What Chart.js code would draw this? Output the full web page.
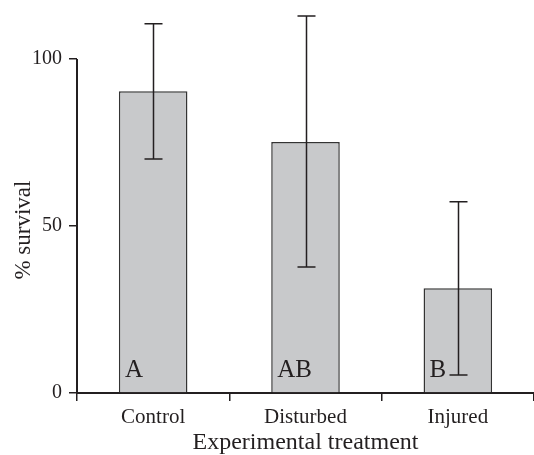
<!DOCTYPE html>
<html>
<head>
<meta charset="utf-8">
<script src="https://cdn.jsdelivr.net/npm/chart.js@4/dist/chart.umd.min.js"></script>
<style>
  html, body { margin: 0; padding: 0; background: #fff; }
  #wrap { width: 534px; height: 455px; }
</style>
</head>
<body>
<div id="wrap"><canvas id="chart"></canvas></div>
<script>
const treatments = ['Control', 'Disturbed', 'Injured'];
const survival = [90.4, 75.2, 31.4];
const errLow = [70.1, 37.7, 5.4];
const errHigh = [110.6, 112.9, 57.3];
const groupLetters = ['A', 'AB', 'B'];
const yTicks = [0, 50, 100];
const yTitle = '% survival';

const ink = '#231f20';
const serif = '"Liberation Serif", "Times New Roman", serif';

// error bars, significance letters, y title and the short y axis line
const extras = {
  id: 'extras',
  afterDatasetsDraw(chart) {
    const ctx = chart.ctx;
    const x = chart.scales.x;
    const y = chart.scales.y;
    const meta = chart.getDatasetMeta(0);
    ctx.save();
    ctx.strokeStyle = ink;
    ctx.lineWidth = 1.5;
    survival.forEach((v, i) => {
      const cx = Math.round(x.getPixelForValue(i)) + 0.5;
      const top = y.getPixelForValue(errHigh[i]);
      const bot = y.getPixelForValue(errLow[i]);
      ctx.beginPath();
      ctx.moveTo(cx, top); ctx.lineTo(cx, bot);
      ctx.moveTo(cx - 9, top); ctx.lineTo(cx + 9, top);
      ctx.moveTo(cx - 9, bot); ctx.lineTo(cx + 9, bot);
      ctx.stroke();
    });
    ctx.fillStyle = ink;
    ctx.font = '25px ' + serif;
    ctx.textBaseline = 'alphabetic';
    ctx.textAlign = 'left';
    meta.data.forEach((bar, i) => {
      const left = bar.x - bar.width / 2;
      ctx.fillText(groupLetters[i], left + 6, y.getPixelForValue(0) - 16);
    });
    // y axis line only spans 0 to 100
    const y0 = y.getPixelForValue(0);
    const y100 = y.getPixelForValue(100);
    ctx.lineWidth = 2;
    ctx.beginPath();
    ctx.moveTo(x.left, y0);
    ctx.lineTo(x.left, y100);
    ctx.stroke();
    // y title centred on that span
    ctx.translate(24, (y0 + y100) / 2 + 4);
    ctx.rotate(-Math.PI / 2);
    ctx.font = '23px ' + serif;
    ctx.textAlign = 'center';
    ctx.textBaseline = 'middle';
    ctx.fillText(yTitle, 0, 0);
    ctx.restore();
  }
};

new Chart(document.getElementById('chart'), {
  type: 'bar',
  data: {
    labels: treatments,
    datasets: [{
      data: survival,
      backgroundColor: '#c8c9cb',
      borderColor: '#333',
      borderWidth: 1.5,
      categoryPercentage: 1,
      barPercentage: 0.45
    }]
  },
  options: {
    responsive: true,
    maintainAspectRatio: false,
    animation: false,
    layout: { padding: 0 },
    plugins: { legend: { display: false }, tooltip: { enabled: false } },
    scales: {
      x: {
        afterFit(scale) { scale.height = 62; scale.paddingLeft = 0; scale.paddingRight = 0; },
        grid: { offset: true, drawOnChartArea: false, tickLength: 8, color: ink, lineWidth: 1.5 },
        border: { display: true, color: ink, width: 2 },
        ticks: { color: ink, font: { family: serif, size: 21 }, padding: 4 },
        title: {
          display: true,
          text: 'Experimental treatment',
          color: ink,
          font: { family: serif, size: 24, lineHeight: 1 },
          padding: { top: 0, bottom: 0 }
        }
      },
      y: {
        min: 0,
        max: 117.7,
        afterFit(scale) { scale.width = 77; scale.paddingTop = 0; scale.paddingBottom = 0; },
        afterBuildTicks(scale) { scale.ticks = yTicks.map(v => ({ value: v })); },
        grid: { drawOnChartArea: false, tickLength: 8, color: ink, lineWidth: 1.5 },
        border: { display: false },
        ticks: { color: ink, font: { family: serif, size: 20 }, padding: 7 },
        title: { display: false }
      }
    }
  },
  plugins: [extras]
});
</script>
</body>
</html>
